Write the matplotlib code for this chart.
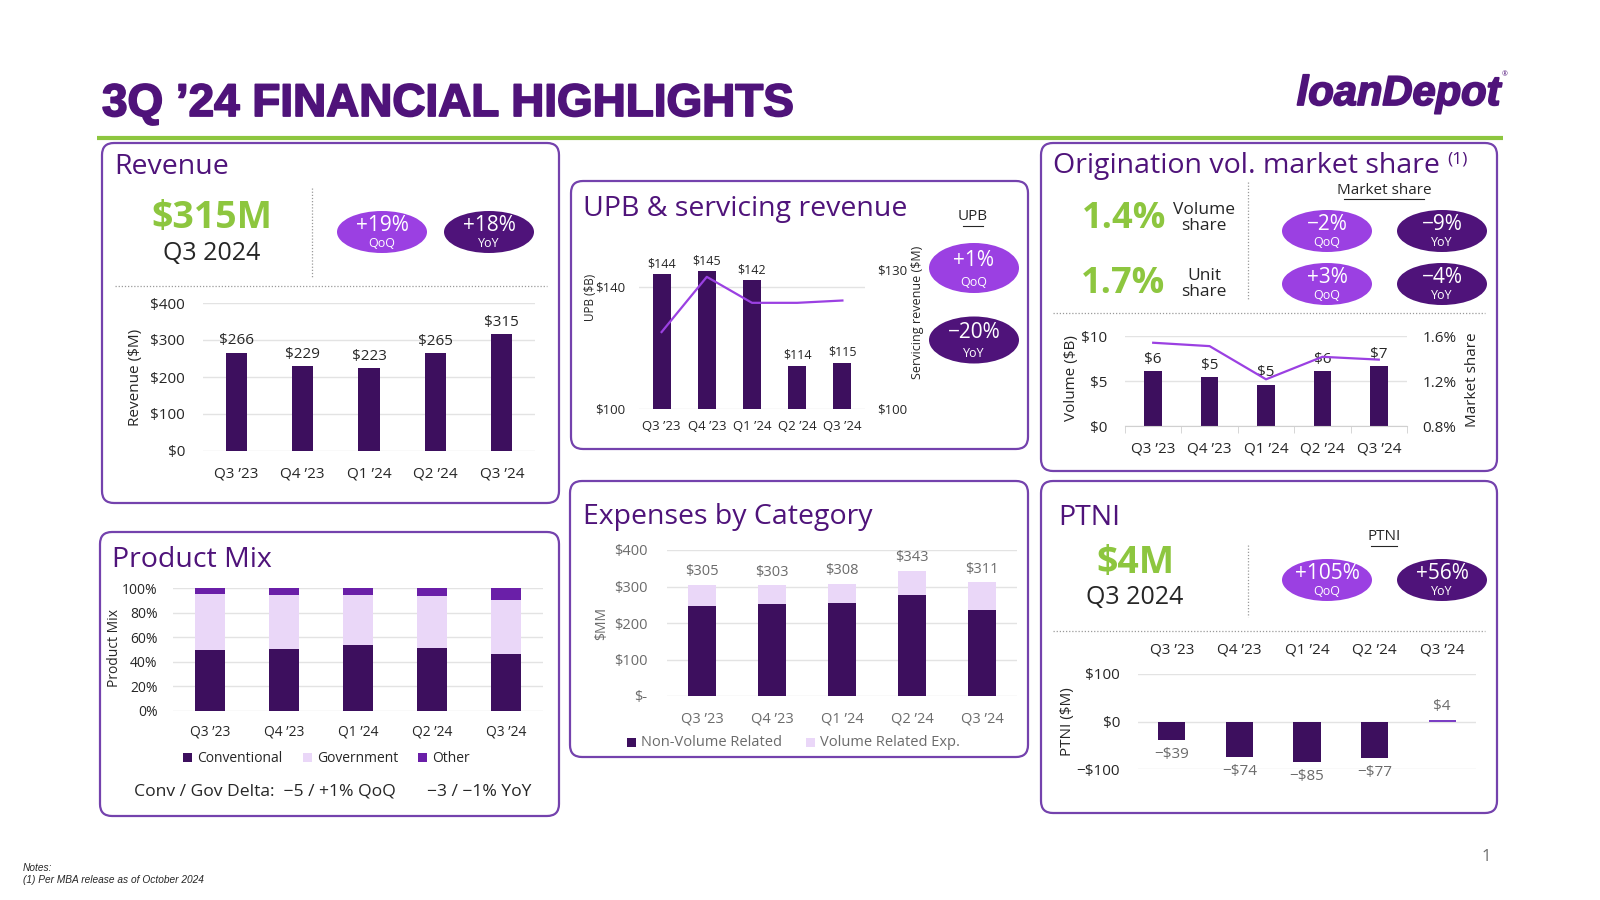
import matplotlib
matplotlib.use('Agg')
import matplotlib.pyplot as plt
import matplotlib.patheffects as pe
from matplotlib.patches import FancyBboxPatch, Ellipse, Rectangle

plt.rcParams['font.family'] = ['Open Sans', 'DejaVu Sans']

# ---- data ----
quarters = ["Q3 ’23", "Q4 ’23", "Q1 ’24", "Q2 ’24", "Q3 ’24"]
revenue = [266, 229, 223, 265, 315]
upb = [144, 145, 142, 114, 115]
servicing_rev = [116.6, 128.5, 122.9, 122.9, 123.4]
orig_volume = [6.1, 5.4, 4.6, 6.1, 6.7]
market_share = [1.54, 1.51, 1.215, 1.415, 1.39]
mix_conventional = [49.6, 50.1, 53.4, 51.2, 46.6]
mix_government = [45.5, 44.5, 41.2, 42.5, 43.9]
mix_other = [4.9, 5.4, 5.4, 6.3, 9.5]
exp_non_volume = [247, 252, 255, 278, 236]
exp_volume = [58, 51, 53, 65, 75]
ptni = [-39, -74, -85, -77, 4]

BAR = '#3d0f5e'
TITLE = '#4f137a'
BORDER = '#7442ad'
GREEN = '#8dc63f'
PILL_LIGHT = '#9b40e2'
PILL_DARK = '#4f137a'
TEXT = '#262626'
GRAY = '#6b6b6b'
GRID = '#e3e3e3'

fig = plt.figure(figsize=(16, 9), dpi=100)
bg = fig.add_axes([0, 0, 1, 1])
bg.set_xlim(0, 1600)
bg.set_ylim(900, 0)
bg.axis('off')


def ax_px(x0, y0, x1, y1):
    return fig.add_axes([x0 / 1600, 1 - y1 / 900, (x1 - x0) / 1600, (y1 - y0) / 900])


def panel(x0, y0, x1, y1, title, tx, ty):
    bg.add_patch(FancyBboxPatch((x0, y0), x1 - x0, y1 - y0,
                                boxstyle='round,pad=0,rounding_size=12',
                                fc='white', ec=BORDER, lw=1.6))
    return bg.text(tx, ty, title, fontsize=20.5, color=TITLE, va='center', ha='left')


def pill(cx, cy, w, h, big, small, dark, big_fs=15):
    bg.add_patch(Ellipse((cx, cy), w, h, fc=PILL_DARK if dark else PILL_LIGHT, ec='none'))
    bg.text(cx, cy - h * 0.16, big, ha='center', va='center', color='white', fontsize=big_fs)
    bg.text(cx, cy + h * 0.28, small, ha='center', va='center', color='white', fontsize=9)


def dotted(x0, y0, x1, y1):
    bg.plot([x0, x1], [y0, y1], ls=(0, (1, 1.5)), color='#9a9a9a', lw=0.9)


def style(ax, ypad, xpad, fs=11, color=TEXT):
    for s in ax.spines.values():
        s.set_visible(False)
    ax.tick_params(length=0, labelsize=fs, labelcolor=color)
    ax.tick_params(axis='y', pad=ypad)
    ax.tick_params(axis='x', pad=xpad)
    ax.grid(axis='y', color=GRID, lw=1)
    ax.set_axisbelow(True)
    ax.set_xlim(-0.5, 4.5)
    ax.set_xticks(range(5))
    ax.set_xticklabels(quarters)


def underlined(x, y, s):
    t = bg.text(x, y, s, ha='center', va='center', fontsize=11, color=TEXT)
    w = len(s) * 6.6
    bg.plot([x - w / 2, x + w / 2], [y + 9, y + 9], color=TEXT, lw=0.8)
    return t


x = list(range(5))

# ---- header ----
bg.text(102, 104, "3Q ’24 FINANCIAL HIGHLIGHTS", fontsize=33, fontweight='bold',
        family=['Liberation Sans', 'DejaVu Sans'], color=TITLE, va='center', ha='left',
        path_effects=[pe.withStroke(linewidth=1.3, foreground=TITLE)])
bg.plot([97, 1503], [138, 138], color=GREEN, lw=3, solid_capstyle='butt')
bg.text(1500, 94, 'loanDepot', fontsize=30, fontweight='bold', style='italic',
        family=['Liberation Sans', 'DejaVu Sans'], color=TITLE, ha='right', va='center',
        path_effects=[pe.withStroke(linewidth=1.3, foreground=TITLE)])
bg.text(1505, 75, '®', fontsize=5, color=TITLE, ha='center', va='center')

# ---- Revenue ----
panel(102, 143, 559, 503, 'Revenue', 114, 167)
bg.text(212, 218, '$315M', fontsize=27, fontweight='bold', color=GREEN, ha='center', va='center')
bg.text(212, 254, 'Q3 2024', fontsize=18, color=TEXT, ha='center', va='center')
dotted(312, 188, 312, 278)
dotted(115, 286, 547, 286)
pill(382, 232, 90, 42, '+19%', 'QoQ', False)
pill(489, 232, 90, 42, '+18%', 'YoY', True)

ax = ax_px(203, 303, 535, 451)
style(ax, 13, 11)
ax.bar(x, revenue, width=0.32, color=BAR)
ax.set_ylim(0, 400)
ax.set_yticks([0, 100, 200, 300, 400])
ax.set_yticklabels(['$0', '$100', '$200', '$300', '$400'])
for i, v in enumerate(revenue):
    ax.annotate(f'${v}', (i, v), xytext=(0, 3), textcoords='offset points',
                ha='center', va='bottom', fontsize=11, color=TEXT)
bg.text(135, 377, 'Revenue ($M)', rotation=90, ha='center', va='center', fontsize=11, color=TEXT)

# ---- UPB & servicing revenue ----
panel(571, 181, 1028, 449, 'UPB & servicing revenue', 583, 209)
underlined(973, 217, 'UPB')
pill(974, 268, 90, 50, '+1%', 'QoQ', False)
pill(974, 340, 90, 47, '−20%', 'YoY', True)

ax = ax_px(639, 256, 865, 409)
style(ax, 10, 8, fs=9.5)
ax.bar(x, upb, width=0.4, color=BAR)
ax.set_ylim(100, 150)
ax.set_yticks([100, 140])
ax.set_yticklabels(['$100', '$140'])
for i, v in enumerate(upb):
    ax.annotate(f'${v}', (i, v), xytext=(0, 3), textcoords='offset points',
                ha='center', va='bottom', fontsize=9, color=TEXT)
ax2 = ax.twinx()
for s in ax2.spines.values():
    s.set_visible(False)
ax2.plot(x, servicing_rev, color='#9b40e2', lw=1.6)
ax2.set_ylim(100, 133)
ax2.set_yticks([100, 130])
ax2.set_yticklabels(['$100', '$130'])
ax2.tick_params(length=0, labelsize=9.5, labelcolor=TEXT, pad=9)
bg.text(590, 297, 'UPB ($B)', rotation=90, ha='center', va='center', fontsize=8.5, color=TEXT)
bg.text(918, 312, 'Servicing revenue ($M)', rotation=90, ha='center', va='center',
        fontsize=9, color=TEXT)

# ---- Origination vol. market share ----
orig_title = panel(1041, 143, 1497, 471, 'Origination vol. market share', 1053, 166)
fig.canvas.draw()
bb = orig_title.get_window_extent().transformed(bg.transData.inverted())
bg.text(bb.x1 + 7, 159, '(1)', fontsize=12.5, color=TITLE, ha='left', va='center')
underlined(1384, 190, 'Market share')
bg.text(1124, 219, '1.4%', fontsize=26, fontweight='bold', color=GREEN, ha='center', va='center')
bg.text(1204, 218, 'Volume\nshare', fontsize=12.5, color=TEXT, ha='center', va='center',
        linespacing=1.0)
bg.text(1123, 284, '1.7%', fontsize=26, fontweight='bold', color=GREEN, ha='center', va='center')
bg.text(1204, 284, 'Unit\nshare', fontsize=12.5, color=TEXT, ha='center', va='center',
        linespacing=1.0)
dotted(1248, 182, 1248, 300)
dotted(1053, 313, 1485, 313)
pill(1327, 231, 90, 42, '−2%', 'QoQ', False)
pill(1442, 231, 90, 42, '−9%', 'YoY', True)
pill(1327, 284, 90, 42, '+3%', 'QoQ', False)
pill(1442, 284, 90, 42, '−4%', 'YoY', True)

ax = ax_px(1125, 336, 1407, 426)
style(ax, 13, 11)
ax.bar(x, orig_volume, width=0.31, color=BAR)
ax.set_ylim(0, 10)
ax.set_yticks([0, 5, 10])
ax.set_yticklabels(['$0', '$5', '$10'])
ax.spines['bottom'].set_visible(True)
ax.spines['bottom'].set_color('#d0d0d0')
ax.set_xticks([i - 0.5 for i in range(6)], minor=True)
ax.tick_params(axis='x', which='minor', length=5, color='#d0d0d0', direction='out')
for i, v in enumerate(orig_volume):
    ax.annotate(f'${v:.0f}', (i, v), xytext=(0, 3), textcoords='offset points',
                ha='center', va='bottom', fontsize=11, color=TEXT)
ax2 = ax.twinx()
for s in ax2.spines.values():
    s.set_visible(False)
ax2.plot(x, market_share, color='#9b40e2', lw=1.6)
ax2.set_ylim(0.8, 1.6)
ax2.set_yticks([0.8, 1.2, 1.6])
ax2.set_yticklabels(['0.8%', '1.2%', '1.6%'])
ax2.tick_params(length=0, labelsize=11, labelcolor=TEXT, pad=11)
bg.text(1072, 378, 'Volume ($B)', rotation=90, ha='center', va='center', fontsize=11, color=TEXT)
bg.text(1472, 380, 'Market share', rotation=90, ha='center', va='center', fontsize=11, color=TEXT)

# ---- Product Mix ----
panel(100, 532, 559, 816, 'Product Mix', 112, 560)
ax = ax_px(173, 588, 543, 711)
style(ax, 11, 10, fs=10)
ax.bar(x, mix_conventional, width=0.4, color=BAR)
ax.bar(x, mix_government, width=0.4, bottom=mix_conventional, color='#ead7f8')
bottoms = [a + b for a, b in zip(mix_conventional, mix_government)]
ax.bar(x, mix_other, width=0.4, bottom=bottoms, color='#6a1fa8')
ax.set_ylim(0, 100)
ax.set_yticks(range(0, 101, 20))
ax.set_yticklabels([f'{v}%' for v in range(0, 101, 20)])
bg.text(114, 648, 'Product Mix', rotation=90, ha='center', va='center', fontsize=10, color=TEXT)
for sx, col, lbl in [(183, BAR, 'Conventional'), (303, '#ead7f8', 'Government'), (418, '#6a1fa8', 'Other')]:
    bg.add_patch(Rectangle((sx, 753), 9, 9, fc=col, ec='none'))
    bg.text(sx + 14, 758, lbl, fontsize=10, color=TEXT, va='center', ha='left')
bg.text(134, 792, 'Conv / Gov Delta:  −5 / +1% QoQ', fontsize=12.6, color=TEXT, va='center', ha='left')
bg.text(427, 792, '−3 / −1% YoY', fontsize=12.6, color=TEXT, va='center', ha='left')

# ---- Expenses by Category ----
panel(570, 481, 1028, 757, 'Expenses by Category', 583, 517)
ax = ax_px(667, 550, 1017, 696)
style(ax, 14, 11, fs=10.5, color=GRAY)
ax.bar(x, exp_non_volume, width=0.4, color=BAR)
ax.bar(x, exp_volume, width=0.4, bottom=exp_non_volume, color='#ead7f8')
ax.set_ylim(0, 400)
ax.set_yticks([0, 100, 200, 300, 400])
ax.set_yticklabels(['$-', '$100', '$200', '$300', '$400'])
for i in x:
    tot = exp_non_volume[i] + exp_volume[i]
    ax.annotate(f'${tot}', (i, tot), xytext=(0, 4), textcoords='offset points',
                ha='center', va='bottom', fontsize=10.5, color=GRAY)
bg.text(602, 623, '$MM', rotation=90, ha='center', va='center', fontsize=10, color=GRAY)
for sx, col, lbl in [(627, BAR, 'Non-Volume Related'), (806, '#ead7f8', 'Volume Related Exp.')]:
    bg.add_patch(Rectangle((sx, 738), 9, 9, fc=col, ec='none'))
    bg.text(sx + 14, 743, lbl, fontsize=10.5, color=GRAY, va='center', ha='left')

# ---- PTNI ----
panel(1041, 481, 1497, 813, 'PTNI', 1058, 518)
underlined(1384, 537, 'PTNI')
bg.text(1135, 563, '$4M', fontsize=27, fontweight='bold', color=GREEN, ha='center', va='center')
bg.text(1135, 598, 'Q3 2024', fontsize=18, color=TEXT, ha='center', va='center')
dotted(1248, 545, 1248, 617)
dotted(1053, 631, 1485, 631)
pill(1327, 580, 90, 42, '+105%', 'QoQ', False)
pill(1442, 580, 90, 42, '+56%', 'YoY', True)

ax = ax_px(1138, 674, 1476, 769)
style(ax, 13, 12)
ax.xaxis.tick_top()
ax.tick_params(axis='x', pad=12)
colors = [BAR if v < 0 else '#7b3fc4' for v in ptni]
ax.bar(x, ptni, width=0.4, color=colors)
ax.set_ylim(-100, 100)
ax.set_yticks([-100, 0, 100])
ax.set_yticklabels(['−$100', '$0', '$100'])
for i, v in enumerate(ptni):
    lbl = f'${v}' if v >= 0 else f'−${-v}'
    ax.annotate(lbl, (i, v), xytext=(0, 4 if v >= 0 else -5), textcoords='offset points',
                ha='center', va='bottom' if v >= 0 else 'top', fontsize=11, color=GRAY)
bg.text(1067, 722, 'PTNI ($M)', rotation=90, ha='center', va='center', fontsize=11, color=TEXT)

# ---- footer ----
bg.text(23, 868, 'Notes:', fontsize=7.3, style='italic', color=TEXT, va='center',
        family=['Liberation Sans', 'DejaVu Sans'])
bg.text(23, 880, '(1) Per MBA release as of October 2024', fontsize=7.3, style='italic', color=TEXT,
        va='center', family=['Liberation Sans', 'DejaVu Sans'])
bg.text(1486, 857, '1', fontsize=12, color=GRAY, ha='center', va='center')

fig.savefig('out.png', dpi=100)
